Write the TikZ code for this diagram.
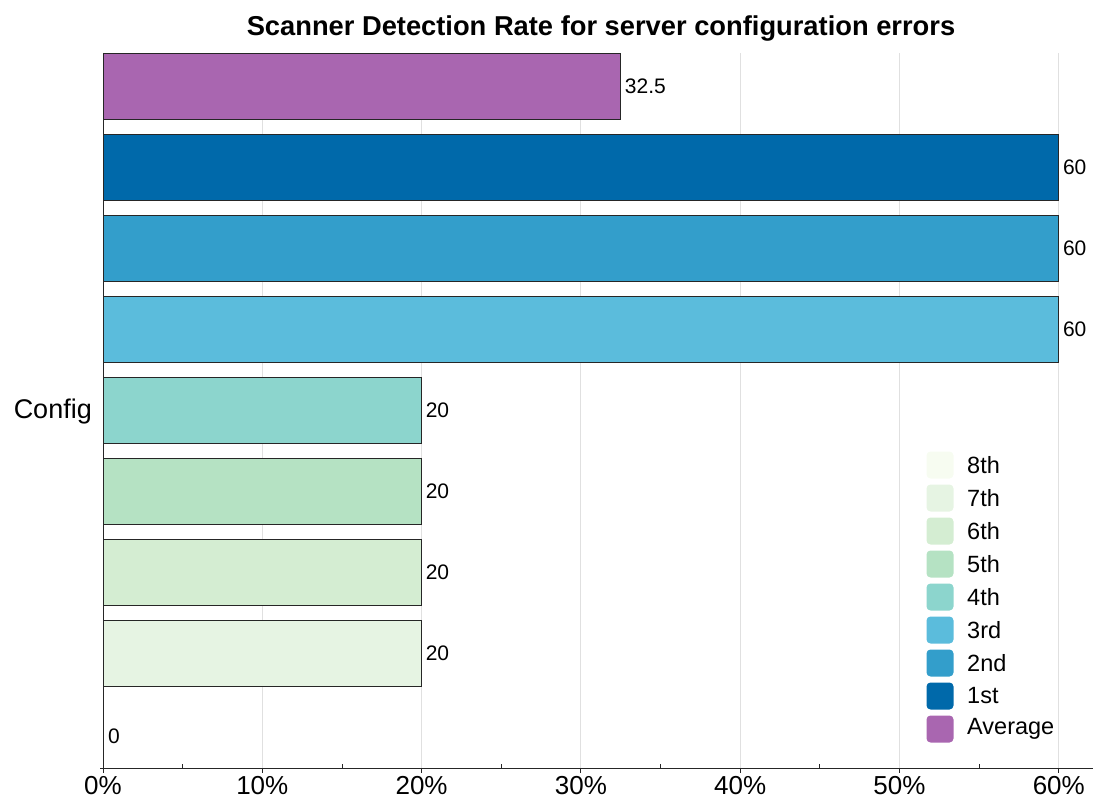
\documentclass[tikz,border=0pt]{standalone}
\usepackage{fontspec}
\setmainfont{Liberation Sans}

\definecolor{cavg}{HTML}{A966B0}
\definecolor{cfirst}{HTML}{0069AA}
\definecolor{csecond}{HTML}{339ECB}
\definecolor{cthird}{HTML}{5BBCDC}
\definecolor{cfourth}{HTML}{8CD5CD}
\definecolor{cfifth}{HTML}{B5E2C3}
\definecolor{csixth}{HTML}{D4EDD2}
\definecolor{cseventh}{HTML}{E6F4E3}
\definecolor{ceighth}{HTML}{F7FCF1}

\begin{document}
\begin{tikzpicture}
  [x=1pt,y=-1pt,
   bar/.style={draw=black!85,line width=0.9pt},
   gridline/.style={draw=black!12,line width=0.9pt},
   vallabel/.style={anchor=west,inner sep=0pt,font=\fontsize{21}{21}\selectfont},
   ticklabel/.style={anchor=north,inner sep=0pt,font=\fontsize{26}{26}\selectfont},
   legbox/.style={rounded corners=4pt,minimum size=27pt,inner sep=0pt},
   legtext/.style={anchor=west,inner sep=0pt,font=\fontsize{23.5}{23.5}\selectfont}]
  \useasboundingbox (0,0) rectangle (1095,799);

  % title
  \node[font=\bfseries\fontsize{27.3}{27.3}\selectfont] (title) at (601,29)
    {Scanner Detection Rate for server configuration errors};

  % grid
  \foreach \p in {10,20,...,60}
    \draw[gridline] ({103+15.93*\p},53) -- ({103+15.93*\p},768);

  % bars
  \foreach \name/\val/\col [count=\i from 0] in
    {avg/32.5/cavg,first/60/cfirst,second/60/csecond,third/60/cthird,
     fourth/20/cfourth,fifth/20/cfifth,sixth/20/csixth,seventh/20/cseventh}{
    \draw[bar,fill=\col] (103,{53+81.1*\i}) rectangle ({103+15.93*\val},{119+81.1*\i});
    \node[vallabel] (v-\name) at ({107+15.93*\val},{86+81.1*\i}) {\val};
  }
  \node[vallabel] (v-eighth) at (108,736) {0};

  % axes
  \draw[black!85,line width=0.9pt] (103,53) -- (103,768);
  \draw[black!85,line width=0.9pt] (100,768) -- (1093,768);
  \foreach \p in {0,10,...,60}{
    \draw[black!85,line width=0.9pt] ({103+15.93*\p},768) -- ({103+15.93*\p},773);
    \node[ticklabel] (t-\p) at ({103+15.93*\p},776) {\p\%};
  }
  \foreach \p in {5,15,...,55}
    \draw[black!85,line width=0.9pt] ({103+15.93*\p},764) -- ({103+15.93*\p},769);

  \node[font=\fontsize{27}{27}\selectfont,anchor=east,inner sep=0pt] (config) at (92,412) {Config};

  % legend
  \foreach \lab/\col [count=\i from 0] in
    {8th/ceighth,7th/cseventh,6th/csixth,5th/cfifth,4th/cfourth,
     3rd/cthird,2nd/csecond,1st/cfirst,Average/cavg}{
    \node[legbox,fill=\col] (lb-\i) at (940,{465+33*\i}) {};
    \node[legtext] (lt-\i) at (967,{465+33*\i}) {\lab};
  }
\end{tikzpicture}
\end{document}
